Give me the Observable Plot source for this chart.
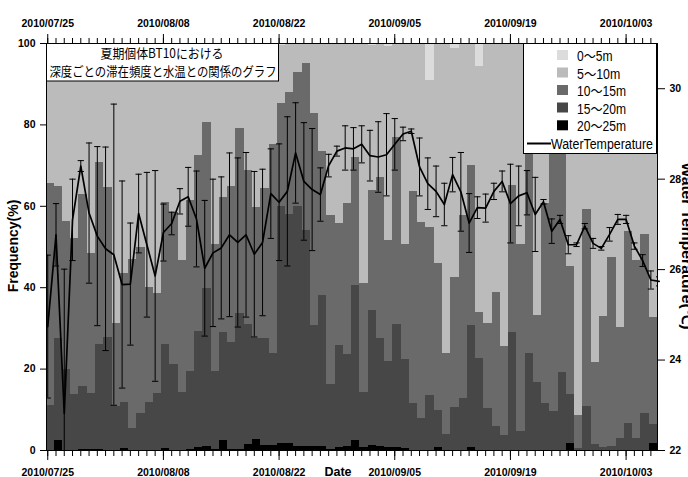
<!DOCTYPE html>
<html><head><meta charset="utf-8">
<script src="https://cdn.jsdelivr.net/npm/d3@7"></script>
<script src="https://cdn.jsdelivr.net/npm/@observablehq/plot@0.6"></script>
<style>
body{margin:0;background:#fff;}
#chart{width:688px;height:477px;overflow:hidden;}
</style>
</head><body><div id="chart"></div>
<script>
// ---------------- data ----------------
const startDate = "2010/07/25";
const depthClasses = ["0～5m","5～10m","10～15m","15～20m","20～25m"];
const depthColors = ["#dcdcdc","#bbbbbb","#6a6a6a","#474747","#000000"];
// daily frequency (%) per depth class, 2010/07/25 .. 2010/10/06
const f0_5 = [0,0,0,0,0,0,0,0,0,0, 0,0,0,0,0,0,0,0,0,0, 0,0,0,0,0,0,0,0,0.4,0, 0,0,0,0,0,0,0,0,0,0.5,
  0,0.7,0,0,0,0,9.1,0,0,1.3, 0,0,5.7,0,0,0,0,0,0,0, 0,0,0,0,0,0,0,0,0,0, 0,0,0,0];
const f5_10 = [34.5,35.1,43.7,47.8,37,51.7,29.2,35.3,68.8,56.6, 53,50.1,59.9,61.4,39,41.5,53.4,38.6,27.4,19.3,
  49.5,37.8,35.1,21,31.1,40.2,35.7,24.7,14.4,12, 7.2,4.8,17.1,26.6,42.3,44.3,39.3,28.1,58.9,35.6,
  33,47.7,23,49.3,36.3,43.9,36.2,54,76.1,56.3, 42.3,30,60.4,68.9,61.1,74.5,35,49.3,24,66.9,
  39.3,24,24,54.8,91.5,40.8,78.4,67.1,52.5,69.8, 46.1,53.4,47,67.3];
const f10_15 = [54.5,37.5,36.3,38.5,47.3,34.4,44.8,36.9,20.5,31.6, 41.5,40.8,28.3,24.6,35,37.3,32.3,42,43.3,41,
  31.1,33.2,38.3,45.3,37.9,32.4,36.7,51.4,25.3,30, 32.9,41.2,52.2,35.4,41.6,30,37.2,31.4,26.8,29.4,
  39.6,29.7,46.1,28.4,52.1,48.2,41.3,36.1,19.9,31.8, 44.9,39.2,11.4,20.9,33.1,21.9,36,46,52.1,16.4,
  49.1,66.4,56.8,31.5,8,48.4,20.2,32.2,46.6,27.2, 47.3,43.6,43.8,26.4];
const f15_20 = [11,24.9,20,13.7,15.5,13.7,25.8,27.8,10.7,11.4, 5.5,9.1,11.8,14,25.4,21.2,14.3,19.2,28.6,38.6,
  19.2,26.6,26.4,33.5,29.5,24.8,26.3,22.6,58.1,56.3, 58.8,52.9,29.6,36.9,15.9,25,22.6,38.1,13.6,33.2,
  26.5,21.2,30.2,21.7,11.6,7.9,13.4,9.2,4,10.6, 12.8,30.1,22.5,10.2,5.8,3.6,29,4.7,23.9,16.7,
  11.6,9.6,19.2,11.9,0.5,10.8,1.4,0.7,0.9,3, 6.6,3,9.2,4.5];
const f20_25 = [0,2.5,0,0,0.2,0.2,0.2,0,0,0.4, 0,0,0,0,0.6,0,0,0.2,0.7,1.1,
  0.2,2.4,0.2,0.2,1.5,2.6,1.3,1.3,1.8,1.7, 1.1,1.1,1.1,1.1,0.2,0.7,0.9,2.4,0.7,1.3,
  0.9,0.7,0.7,0.6,0,0,0,0.7,0,0, 0,0.7,0,0,0,0,0,0,0,0,
  0,0,0,1.8,0,0,0,0,0,0, 0,0,0,1.8];
// daily mean water temperature (°C) and SD, 2010/07/25 .. 2010/10/07
const waterTemp = [24.74,26.77,22.82,27.1,28.29,27.25,26.74,26.46,26.33,25.67,
  25.68,27.24,26.55,25.86,26.82,27.02,27.51,27.61,27.12,26.03,
  26.37,26.48,26.77,26.6,26.77,26.34,26.6,27.68,27.49,27.73,
  28.58,27.95,27.77,27.66,28.3,28.62,28.69,28.67,28.77,28.52,
  28.49,28.54,28.77,29.0,29.06,28.27,27.9,27.73,27.44,28.1,
  27.72,27.03,27.37,27.36,27.73,27.95,27.46,27.63,27.7,27.22,
  27.5,26.85,27.11,26.55,26.55,26.96,26.58,26.47,26.78,27.11,
  27.11,26.52,26.2,25.77,25.74];
const waterTempSD = [1.58,0.69,3.19,0.9,0.12,1.55,1.98,2.25,3.33,2.29,
  1.35,0.87,1.6,2.33,0.63,0.25,0.28,0.65,1.06,1.5,
  1.63,1.57,1.81,1.87,1.82,1.83,1.62,0.99,1.29,1.65,
  1.11,1.3,1.35,0.59,0.25,0.11,0.49,0.47,0.41,0.56,
  0.78,0.91,0.57,0.15,0.05,0.64,0.57,0.56,0.47,0.38,
  0.87,0.65,0.24,0.31,0.18,0.23,0.87,0.66,0.49,0.82,
  0.05,0.27,0.09,0.2,0.04,0.06,0.11,0.04,0.15,0.11,
  0.09,0.07,0.13,0.2,0.1];
const dateTickLabels = ["2010/07/25","2010/08/08","2010/08/22","2010/09/05","2010/09/19","2010/10/03"];
const freqTicks = [0,20,40,60,80,100];
const tempTicks = [22,24,26,28,30];
const tempDomain = [22,31];
const titleLines = ["夏期個体BT10における","深度ごとの滞在頻度と水温との関係のグラフ"];
const yLabel = "Frequency(%)";
const y2Label = "Water Temperature(℃)";
const xLabel = "Date";
const lineLabel = "WaterTemperature";

// ---------------- build ----------------
const DAY = 864e5;
const parseDate = s => { const [y,m,d] = s.split("/").map(Number); return Date.UTC(y, m-1, d); };
const t0 = parseDate(startDate);
const dayAt = k => new Date(t0 + k * DAY);
const fmtTick = d3.utcFormat("%Y/%m/%d");
const toY = t => (t - tempDomain[0]) / (tempDomain[1] - tempDomain[0]) * 100;
const fromY = y => tempDomain[0] + y / 100 * (tempDomain[1] - tempDomain[0]);

const freqSeries = [f0_5, f5_10, f10_15, f15_20, f20_25];
const barRows = [];
f0_5.forEach((_, k) => {
  for (let c = freqSeries.length - 1; c >= 0; c--) {
    barRows.push({k, x1: new Date(t0 + (k - 0.22) * DAY), x2: new Date(t0 + (k + 0.78) * DAY),
      cls: depthClasses[c], value: freqSeries[c][k]});
  }
});
const tempRows = waterTemp.map((t, k) => ({
  date: dayAt(k), y: toY(t),
  lo: toY(t - waterTempSD[k]), hi: toY(t + waterTempSD[k]),
  c1: new Date(t0 + (k - 0.38) * DAY), c2: new Date(t0 + (k + 0.38) * DAY)
}));
const dayTicks = d3.utcDay.range(dayAt(0), dayAt(f0_5.length));
const majorTicks = dateTickLabels.map(s => new Date(parseDate(s)));

const chart = Plot.plot({
  width: 688, height: 477,
  marginLeft: 46, marginRight: 31, marginTop: 43, marginBottom: 27,
  style: {fontFamily: "'Liberation Sans', Arial, sans-serif", fontSize: "10.5px", fontWeight: "bold", background: "#fff", color: "#000"},
  x: {type: "utc", domain: [new Date(t0 - 0.15 * DAY), new Date(t0 + 73.8 * DAY)]},
  y: {domain: [0, 100]},
  color: {domain: depthClasses, range: depthColors},
  marks: [
    Plot.rectY(barRows, Plot.stackY({x: "k", x1: "x1", x2: "x2", y: "value", fill: "cls", clip: true, shapeRendering: "crispEdges"})),
    Plot.ruleX(tempRows, {x: "date", y1: "lo", y2: "hi", stroke: "#000", strokeWidth: 1, clip: true}),
    Plot.link(tempRows, {x1: "c1", x2: "c2", y1: "lo", y2: "lo", stroke: "#000", strokeWidth: 1, clip: true}),
    Plot.link(tempRows, {x1: "c1", x2: "c2", y1: "hi", y2: "hi", stroke: "#000", strokeWidth: 1, clip: true}),
    Plot.line(tempRows, {x: "date", y: "y", stroke: "#000", strokeWidth: 1.7}),
    Plot.frame({stroke: "#000"}),
    Plot.axisY({anchor: "left", ticks: freqTicks, tickSize: 6, tickPadding: 5, label: null}),
    Plot.axisY({anchor: "right", ticks: tempTicks.map(toY), tickFormat: d => Math.round(fromY(d)), tickSize: 7, tickPadding: 5, label: null}),
    Plot.axisX({anchor: "bottom", ticks: dayTicks, tickSize: 6, tickFormat: () => "", label: null}),
    Plot.axisX({anchor: "bottom", ticks: majorTicks, tickSize: 10, tickPadding: 8, tickFormat: fmtTick, label: null}),
    Plot.axisX({anchor: "top", ticks: dayTicks, tickSize: 6, tickFormat: () => "", label: null}),
    Plot.axisX({anchor: "top", ticks: majorTicks, tickSize: 10, tickPadding: 7, tickFormat: fmtTick, label: null})
  ]
});

const svg = d3.select(chart);
// title box
const tb = svg.append("g").attr("font-family", "'Noto Sans CJK JP', sans-serif").attr("font-weight", "normal").attr("font-size", "13px").attr("fill", "#000").attr("text-anchor", "middle");
tb.append("rect").attr("x", 46.5).attr("y", 43.5).attr("width", 232).attr("height", 37.5).attr("fill", "#fff").attr("stroke", "#000");
tb.append("text").attr("x", 162).attr("y", 58).attr("textLength", 123).attr("lengthAdjust", "spacingAndGlyphs").text(titleLines[0]);
tb.append("text").attr("x", 163).attr("y", 76).attr("textLength", 227).attr("lengthAdjust", "spacingAndGlyphs").text(titleLines[1]);

// legend
const lg = svg.append("g").attr("font-family", "'Liberation Sans', 'Noto Sans CJK JP', sans-serif").attr("font-weight", "normal").attr("font-size", "14px").attr("fill", "#000").attr("text-anchor", "start");
lg.append("rect").attr("x", 523.5).attr("y", 43.5).attr("width", 133).attr("height", 110).attr("fill", "#fff").attr("stroke", "#000");
const legendRowY = [55, 72.5, 90, 107.5, 125.3];
const legendTextW = [35.6, 43.3, 49, 49, 49];
depthClasses.forEach((c, i) => {
  lg.append("rect").attr("x", 557).attr("y", legendRowY[i] - 5).attr("width", 11).attr("height", 10).attr("fill", depthColors[i]);
  lg.append("text").attr("x", 577).attr("y", legendRowY[i] + 6).attr("textLength", legendTextW[i]).attr("lengthAdjust", "spacingAndGlyphs").text(c);
});
lg.append("line").attr("x1", 527).attr("x2", 551).attr("y1", 143.5).attr("y2", 143.5).attr("stroke", "#000").attr("stroke-width", 2);
lg.append("text").attr("x", 551).attr("y", 149).attr("textLength", 102).attr("lengthAdjust", "spacingAndGlyphs").text(lineLabel);

// axis titles
const at = svg.append("g").attr("font-family", "'Liberation Sans', Arial, sans-serif").attr("font-weight", "bold").attr("fill", "#000").attr("text-anchor", "middle");
at.append("text").attr("transform", "translate(18,246) rotate(-90)").attr("font-size", "14px").text(yLabel);
at.append("text").attr("transform", "translate(682,246) rotate(90)").attr("font-size", "14px").attr("textLength", 167).attr("lengthAdjust", "spacingAndGlyphs").text(y2Label);
at.append("text").attr("x", 338).attr("y", 475.5).attr("font-size", "12.5px").text(xLabel);

document.getElementById("chart").appendChild(chart);
</script>
</body></html>
